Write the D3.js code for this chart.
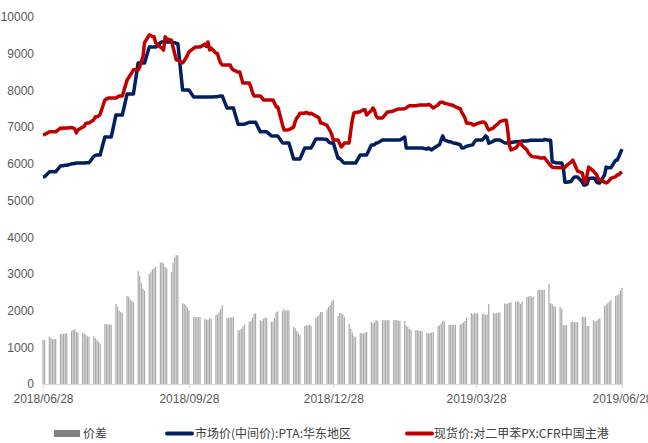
<!DOCTYPE html>
<html>
<head>
<meta charset="utf-8">
<script src="https://cdn.jsdelivr.net/npm/d3@7"></script>
<style>
  body { margin: 0; background: #fff; }
  .axis text { font-family: "Liberation Sans Narrow", "Arial Narrow", "Liberation Sans", sans-serif; font-size: 12px; fill: #595959; }
  .legend text { font-family: "Noto Sans CJK SC", sans-serif; font-size: 12px; fill: #404040; }
</style>
</head>
<body>
<div id="chart-area"></div>
<script>
// x axis tick labels
var tickDates = ["2018/06/28", "2018/09/28", "2018/12/28", "2019/03/28", "2019/06/28"];
var yTicks = [0, 1000, 2000, 3000, 4000, 5000, 6000, 7000, 8000, 9000, 10000];

// 市场价(中间价):PTA:华东地区, one value per weekday (rows = weeks)
var pta = [
  5640, 5650,
  5780, 5780, 5780, 5780, 5780,
  5940, 5950, 5950, 5960, 5960,
  6000, 6000, 6010, 6020, 6020,
  6020, 6020, 6030, 6030, 6030,
  6200, 6230, 6240, 6240, 6240,
  6730, 6730, 6730, 6730, 6730,
  7330, 7330, 7330, 7330, 7330,
  7900, 7900, 7900, 7900, 7900,
  8750, 8750, 8750, 8750, 8750,
  9180, 9180, 9180, 9180, 9180,
  9300, 9320, 9330, 9340, 9320,
  9320, 9300, 9300, 9280, 9280,
  8010, 8010, 8010, 8010, 8010,
  7820, 7820, 7820, 7820, 7820,
  7820, 7820, 7820, 7820, 7820,
  7830, 7830, 7840, 7850, 7850,
  7520, 7520, 7520, 7520, 7520,
  7080, 7080, 7080, 7080, 7080,
  7130, 7130, 7130, 7130, 7130,
  6870, 6870, 6870, 6870, 6870,
  6760, 6760, 6760, 6760, 6760,
  6570, 6570, 6570, 6570, 6570,
  6130, 6130, 6130, 6130, 6130,
  6430, 6430, 6430, 6430, 6430,
  6675, 6675, 6675, 6675, 6675,
  6660, 6600, 6570, 6570, 6570,
  6150, 6150, 6100, 6050, 6020,
  6020, 6020, 6020, 6020, 6020,
  6240, 6240, 6240, 6240, 6240,
  6510, 6510, 6520, 6570, 6570,
  6650, 6650, 6650, 6650, 6650,
  6650, 6650, 6650, 6650, 6650,
  6730, 6430, 6430, 6430, 6430,
  6430, 6430, 6430, 6430, 6430,
  6400, 6430, 6400, 6380, 6420,
  6500, 6520, 6650, 6760, 6650,
  6600, 6600, 6580, 6560, 6560,
  6520, 6430, 6430, 6450, 6480,
  6510, 6520, 6600, 6650, 6650,
  6650, 6700, 6760, 6720, 6560,
  6620, 6650, 6650, 6650, 6650,
  6570, 6570, 6570, 6570, 6580,
  6600, 6600, 6610, 6610, 6620,
  6620, 6630, 6640, 6640, 6640,
  6640, 6640, 6640, 6640, 6660,
  6640, 6640, 6050, 6050, 6030,
  6020, 6020, 5900, 5500, 5500,
  5520, 5600, 5640, 5640, 5640,
  5500, 5420, 5420, 5450, 5600,
  5610, 5600, 5500, 5480, 5480,
  5700, 5910, 5890, 5890, 5890,
  6100, 6100, 6200, 6300, 6400
];

// 现货价:对二甲苯PX:CFR中国主港
var px = [
  6790, 6800,
  6870, 6870, 6870, 6870, 6870,
  6975, 6960, 6980, 6970, 6975,
  6990, 6980, 6950, 6840, 6920,
  7000, 7020, 7100, 7110, 7110,
  7200, 7280, 7280, 7300, 7350,
  7740, 7760, 7790, 7790, 7790,
  7790, 7820, 7850, 7850, 7850,
  8280, 8350, 8420, 8480, 8560,
  8560, 8640, 8800, 8910, 9300,
  9510, 9500, 9460, 9460, 9300,
  9180, 9150, 9100, 9460, 9400,
  9370, 9180, 9000, 8830, 8830,
  8750, 8800, 8880, 8950, 9050,
  9150, 9180, 9180, 9180, 9180,
  9260, 9200, 9320, 9100, 9150,
  9020, 9000, 8850, 8750, 8690,
  8690, 8690, 8690, 8600, 8560,
  8500, 8500, 8350, 8200, 8200,
  8200, 8100, 7950, 7850, 7850,
  7850, 7800, 7740, 7740, 7740,
  7740, 7740, 7650, 7550, 7550,
  7060, 6920, 6920, 6920, 6930,
  7000, 7150, 7250, 7300, 7380,
  7380, 7400, 7380, 7360, 7380,
  7300, 7280, 7250, 7110, 7110,
  7050, 6975, 6900, 6800, 6650,
  6650, 6550, 6460, 6500, 6570,
  6570, 6900, 7200, 7380, 7400,
  7420, 7450, 7470, 7470, 7330,
  7450, 7520, 7450, 7300, 7250,
  7250, 7300, 7350, 7410, 7410,
  7440, 7460, 7480, 7490, 7490,
  7500, 7520, 7560, 7580, 7580,
  7580, 7590, 7600, 7600, 7600,
  7600, 7620, 7600, 7560, 7520,
  7600, 7660, 7680, 7680, 7650,
  7620, 7600, 7600, 7580, 7550,
  7500, 7400, 7330, 7250, 7110,
  7100, 7060, 7060, 7080, 7100,
  7140, 7140, 7100, 7000, 6920,
  6980, 7030, 7060, 7100, 7150,
  7190, 7190, 6900, 6500, 6380,
  6430, 6480, 6550, 6600, 6500,
  6380, 6300, 6250, 6200, 6190,
  6180, 6160, 6160, 6160, 6170,
  6000, 5950, 5910, 5900, 5900,
  5890, 5890, 5890, 5900, 5950,
  6050, 6100, 6000, 5900, 5800,
  5750, 5550, 5480, 5700, 5910,
  5800, 5750, 5700, 5600, 5560,
  5500, 5480, 5500, 5550, 5600,
  5650, 5700, 5700, 5750, 5780
];

// 价差
var spread = [
  1200, 1200,
  1290, 1250, 1225, 1225, 1225,
  1360, 1360, 1370, 1380, 1380,
  1440, 1470, 1490, 1420, 1400,
  1390, 1380, 1340, 1300, 1290,
  1300, 1250, 1200, 1150, 1100,
  1635, 1630, 1620, 1620, 1620,
  2180, 2100, 2000, 1960, 1940,
  2400, 2380, 2300, 2260, 2235,
  3080, 2950, 2750, 2600, 2540,
  3000, 3060, 3120, 3160, 3200,
  3300, 3320, 3280, 3190, 3150,
  3050, 3300, 3450, 3515, 3500,
  2200, 2180, 2140, 2080, 2000,
  1830, 1820, 1820, 1820, 1830,
  1770, 1760, 1740, 1800, 1780,
  1880, 1900, 1950, 2050, 2150,
  1790, 1800, 1810, 1810, 1830,
  1470, 1460, 1500, 1560, 1620,
  1690, 1720, 1800, 1900, 1930,
  1740, 1720, 1780, 1800, 1800,
  1690, 1700, 1800, 1960, 1980,
  1990, 2040, 2000, 2010, 2010,
  1555, 1520, 1450, 1380, 1335,
  1580, 1600, 1600, 1620, 1580,
  1800, 1840, 1890, 1960, 1960,
  2030, 2100, 2150, 2240, 2300,
  1850, 1930, 1930, 1900, 1830,
  1650, 1500, 1400, 1300, 1280,
  1390, 1380, 1380, 1400, 1420,
  1690, 1650, 1690, 1740, 1720,
  1740, 1740, 1740, 1740, 1740,
  1740, 1740, 1740, 1730, 1720,
  1720, 1600, 1560, 1500, 1470,
  1470, 1470, 1450, 1450, 1440,
  1390, 1380, 1390, 1400, 1420,
  1580, 1600, 1650, 1720, 1700,
  1610, 1610, 1610, 1610, 1610,
  1620, 1640, 1680, 1720, 1800,
  1930, 1900, 1940, 1920, 1930,
  1900, 1920, 1880, 1900, 2180,
  1930, 1920, 1930, 1940, 1950,
  2200, 2180, 2200, 2210, 2230,
  2235, 2260, 2240, 2180, 2250,
  2370, 2380, 2400, 2380, 2370,
  2560, 2570, 2560, 2570, 2570,
  2725, 2200, 2180, 2120, 2100,
  2100, 2050, 1610, 1600, 1610,
  1690, 1700, 1690, 1680, 1690,
  1825, 1830, 1820, 1580, 1580,
  1740, 1700, 1720, 1760, 1800,
  2120, 2160, 2200, 2250, 2290,
  2400, 2420, 2450, 2550, 2620
];

var W = 648, H = 443;
var parse = d3.timeParse("%Y/%m/%d");
var start = parse(tickDates[0]), end = parse(tickDates[tickDates.length - 1]);

// weekdays between first and last date (the series are daily, weekends skipped)
var days = d3.timeDay.range(start, d3.timeDay.offset(end, 1))
    .filter(function (d) { return d.getDay() !== 0 && d.getDay() !== 6; });

var svg = d3.select("#chart-area")
    .append("svg")
    .attr("width", W)
    .attr("height", H);

var x = d3.scaleTime()
    .domain([start, end])
    .range([43, 622]);

var y = d3.scaleLinear()
    .domain([0, 10000])
    .range([384, 17]);

// Y axis (labels only)
var yAxis = svg.append("g")
    .attr("class", "axis")
    .attr("transform", "translate(36,0)")
    .call(d3.axisLeft(y).tickValues(yTicks).tickSize(0).tickPadding(2).tickFormat(d3.format("d")));
yAxis.select(".domain").remove();

// bars
svg.append("g")
    .selectAll("rect")
    .data(days)
    .enter()
    .append("rect")
    .attr("x", function (d) { return x(d) - 0.6; })
    .attr("width", 1.2)
    .attr("y", function (d, i) { return y(spread[i]); })
    .attr("height", function (d, i) { return y(0) - y(spread[i]); })
    .attr("fill", "#a9a9a9");

// X axis
var xAxis = svg.append("g")
    .attr("class", "axis")
    .attr("transform", "translate(0," + y(0) + ")")
    .call(d3.axisBottom(x).tickValues(tickDates.map(parse)).tickSize(4).tickPadding(6)
        .tickFormat(d3.timeFormat("%Y/%m/%d")));
xAxis.select(".domain").attr("stroke", "#d9d9d9").attr("stroke-width", 1.2);
xAxis.selectAll(".tick line").attr("stroke", "#d9d9d9");

function drawLine(values, color) {
    var line = d3.line()
        .x(function (d) { return x(d); })
        .y(function (d, i) { return y(values[i]); });
    svg.append("path")
        .datum(days)
        .attr("d", line)
        .attr("fill", "none")
        .attr("stroke", color)
        .attr("stroke-width", 3.5)
        .attr("stroke-linejoin", "round");
}
drawLine(pta, "#002060");
drawLine(px, "#c00000");

// legend
var legend = svg.append("g").attr("class", "legend");
legend.append("rect")
    .attr("x", 54).attr("y", 430).attr("width", 26).attr("height", 7)
    .attr("fill", "#7f7f7f");
legend.append("text").attr("x", 83).attr("y", 438).text("价差");

legend.append("line")
    .attr("x1", 167).attr("x2", 192).attr("y1", 433.5).attr("y2", 433.5)
    .attr("stroke", "#002060").attr("stroke-width", 4).attr("stroke-linecap", "round");
legend.append("text").attr("x", 195).attr("y", 438).text("市场价(中间价):PTA:华东地区");

legend.append("line")
    .attr("x1", 407).attr("x2", 432).attr("y1", 433.5).attr("y2", 433.5)
    .attr("stroke", "#c00000").attr("stroke-width", 4).attr("stroke-linecap", "round");
legend.append("text").attr("x", 434).attr("y", 438).text("现货价:对二甲苯PX:CFR中国主港");
</script>
</body>
</html>
